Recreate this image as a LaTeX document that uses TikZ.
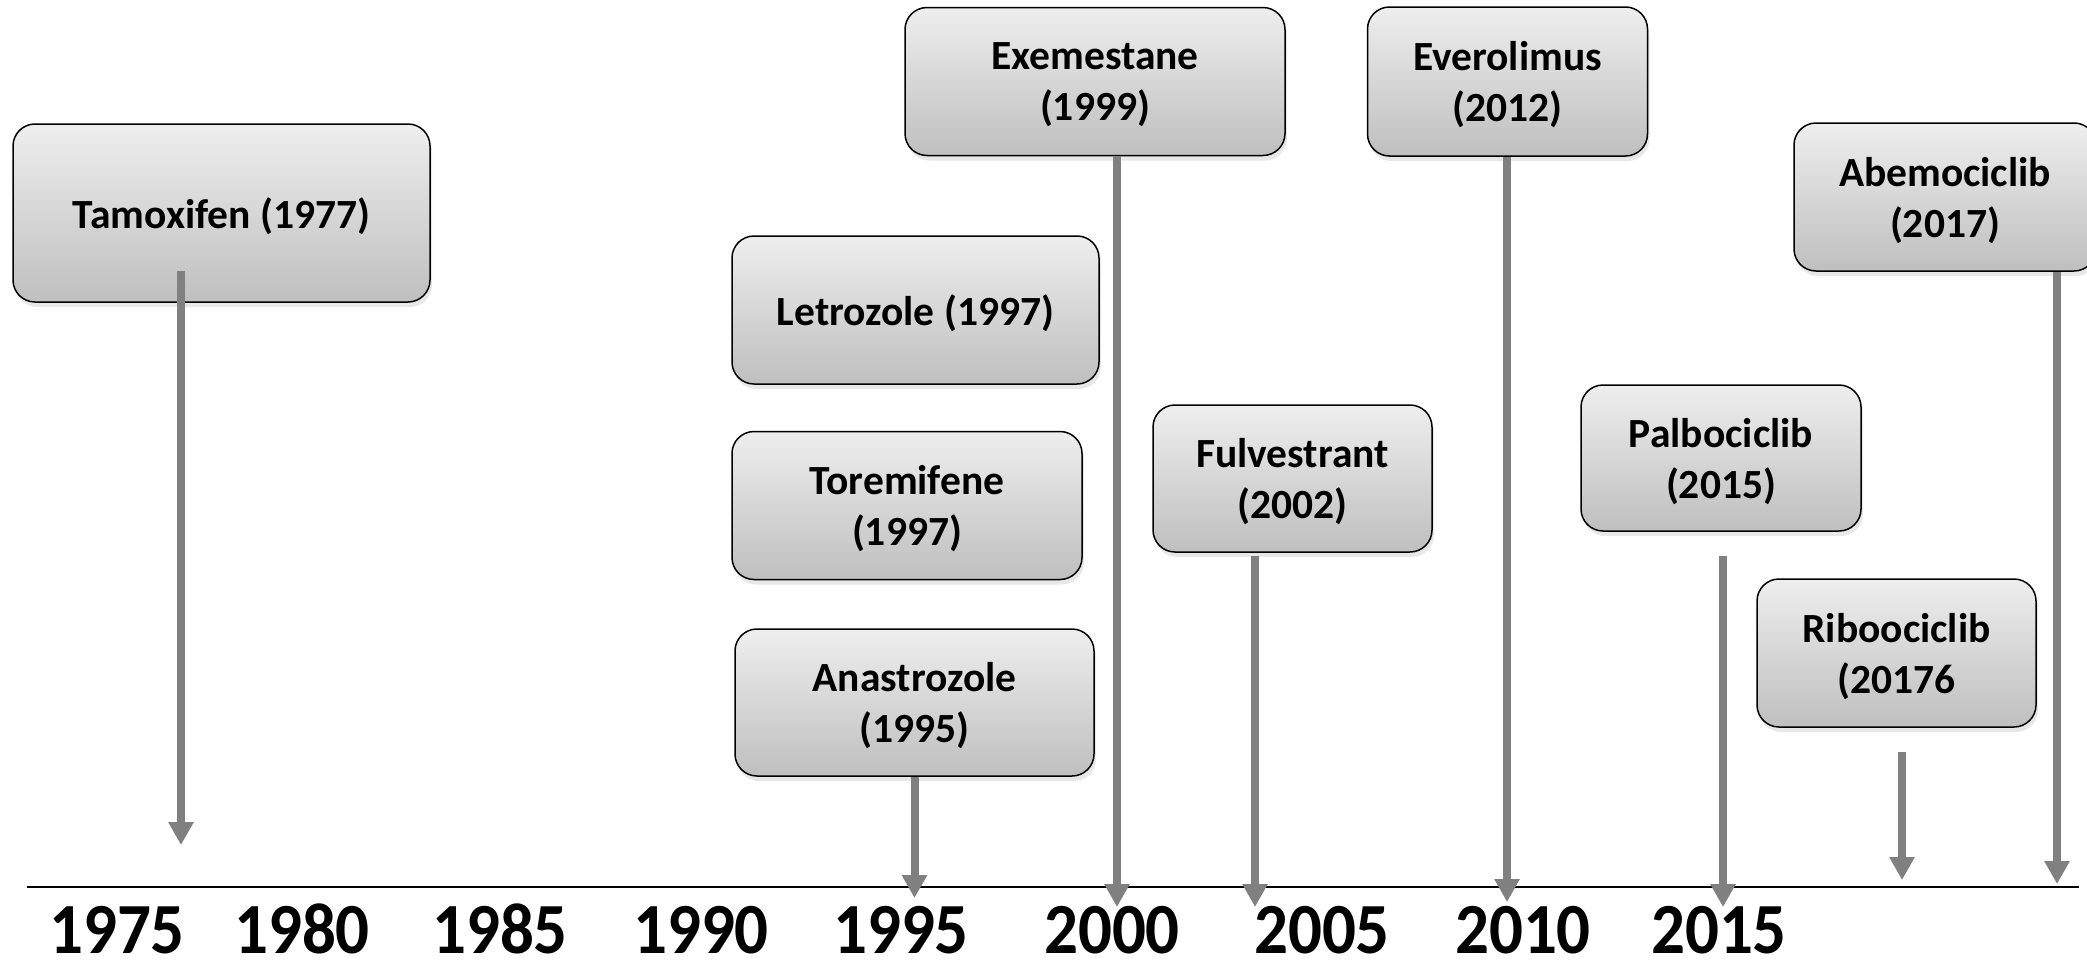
\documentclass[tikz,border=0pt]{standalone}
\usepackage{fontspec}
\setmainfont{Carlito}
\newfontfamily\yearfont{Carlito}[FakeStretch=0.93]
\usepackage{tikz}
\usetikzlibrary{arrows.meta,positioning,shadows}
\definecolor{boxtop}{RGB}{238, 238, 238}
\definecolor{boxbot}{RGB}{191, 191, 191}
\definecolor{arrowgray}{RGB}{128, 128, 128}
\tikzstyle{drug} = [rectangle, rounded corners=11pt, draw=black, line width=0.75pt, top color=boxtop, bottom color=boxbot, drop shadow={shadow xshift=1pt, shadow yshift=-2.5pt, opacity=0.18}, align=center, text=black, inner sep=0pt, text depth=-1pt, font=\bfseries\fontsize{20.75}{25.5}\selectfont]
\tikzstyle{yearlbl} = [anchor=base, inner sep=0pt, text=black, font=\yearfont\bfseries\fontsize{36}{40}\selectfont]
\tikzstyle{tedge} = [draw=arrowgray, line width=4pt, -{Triangle[width=12pt, length=11.5pt]}]
\tikzstyle{timeline} = [draw=black, line width=1pt]

\begin{document}
\begin{tikzpicture}[x=0.5pt, y=-0.5pt]
\useasboundingbox (0,0) rectangle (2087,959);

% timeline =============================
\coordinate (lineL) at (27,887);
\coordinate (lineR) at (2079,887);
\path[timeline] (lineL) -- (lineR);

\foreach \x/\yr in {117/1975, 302/1980, 500/1985, 701/1990, 901/1995, 1112/2000, 1322/2005, 1523/2010, 1719/2015}
  \node[yearlbl] (y\yr) at (\x,953) {\yr};

% drugs ================================
\node[drug, minimum width=208.5pt, minimum height=89pt] (tamox) at (221.5,213) {Tamoxifen (1977)};

% 1995-1997 column
\node[drug, minimum width=183.5pt, minimum height=74pt] (letro) at (915.5,310) {Letrozole (1997)};
\node[drug, minimum width=175pt, minimum height=74pt, below=23pt of letro.south west, anchor=north west] (torem) {Toremifene\\(1997)};
\node[drug, minimum width=179.5pt, minimum height=73.5pt, below=24pt of torem.south west, anchor=north west, xshift=1.5pt] (anast) {Anastrozole\\(1995)};

\node[drug, minimum width=190pt, minimum height=74pt] (exem) at (1095,81.5) {Exemestane\\(1999)};
\node[drug, minimum width=139.5pt, minimum height=73.5pt] (fulv) at (1292.5,478.5) {Fulvestrant\\(2002)};
\node[drug, minimum width=140pt, minimum height=74.5pt, right=40.5pt of exem] (evero) {Everolimus\\(2012)};
\node[drug, minimum width=140pt, minimum height=73pt] (palbo) at (1721,458) {Palbociclib\\(2015)};
\node[drug, minimum width=139.5pt, minimum height=74pt] (ribo) at (1896.5,653) {Riboociclib\\(20176};
\node[drug, minimum width=151pt, minimum height=74pt] (abem) at (1945,197) {Abemociclib\\(2017)};

% arrows ===============================
\coordinate (s1977) at (181,271);
\coordinate (t1977) at (181,845);
\coordinate (t1995) at (914.5,898);
\coordinate (t1999) at (1117,907);
\coordinate (s2002) at (1255,556);
\coordinate (t2002) at (1255,907);
\coordinate (t2012) at (1507,902);
\coordinate (s2015) at (1723,556);
\coordinate (t2015) at (1723,907);
\coordinate (s2016) at (1902,752);
\coordinate (t2016) at (1902,880);
\coordinate (t2017) at (2057,884);

\path[tedge] (s1977) -- (t1977);
\path[tedge] (anast.south -| t1995) -- (t1995);
\path[tedge] (exem.south -| t1999) -- (t1999);
\path[tedge] (s2002) -- (t2002);
\path[tedge] (evero.south -| t2012) -- (t2012);
\path[tedge] (s2015) -- (t2015);
\path[tedge] (s2016) -- (t2016);
\path[tedge] (abem.south -| t2017) -- (t2017);

\end{tikzpicture}
\end{document}
